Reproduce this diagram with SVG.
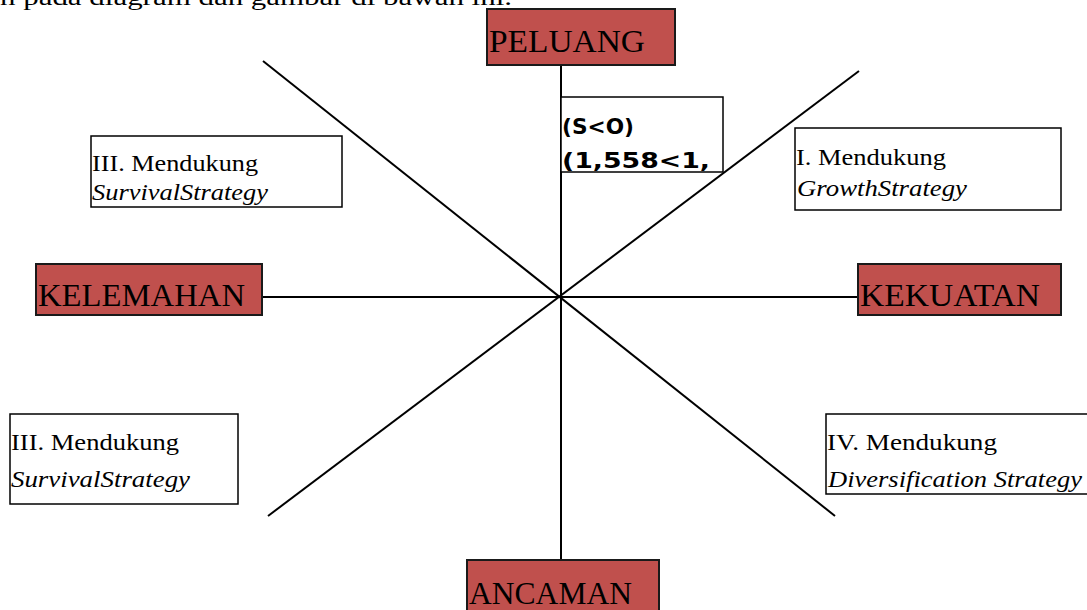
<svg xmlns="http://www.w3.org/2000/svg" width="1087" height="610" viewBox="0 0 1087 610">
<style>
.red{fill:#C0504D;stroke:#1a1a1a;stroke-width:2}
.box{fill:#ffffff;stroke:#000;stroke-width:1.5}
.lbl{font-family:"Liberation Serif",serif;font-size:32px;fill:#000}
.t{font-family:"Liberation Serif",serif;font-size:23px;fill:#000}
.i{font-style:italic}
.b{font-family:"DejaVu Sans",sans-serif;font-weight:bold;font-size:22px;fill:#000}
.ln{stroke:#000;stroke-width:2;fill:none}
</style>
<rect width="1087" height="610" fill="#ffffff"/>
<text x="0" y="5" font-family="Liberation Serif,serif" font-size="24" textLength="512" lengthAdjust="spacingAndGlyphs">n pada diagram dan gambar di bawah ini.</text>
<g id="connectors">
<line class="ln" x1="561" y1="66" x2="561" y2="560"/>
<line class="ln" x1="262" y1="297" x2="858" y2="297"/>
<line class="ln" x1="263" y1="61" x2="835" y2="516"/>
<line class="ln" x1="859" y1="71" x2="268" y2="516"/>
</g>
<g id="peluang">
<rect class="red" x="487" y="9" width="188" height="56"/>
<text class="lbl" x="489" y="52" textLength="156" lengthAdjust="spacingAndGlyphs">PELUANG</text>
</g>
<g id="kelemahan">
<rect class="red" x="36" y="264" width="226" height="51"/>
<text class="lbl" x="38" y="306" textLength="207" lengthAdjust="spacingAndGlyphs">KELEMAHAN</text>
</g>
<g id="kekuatan">
<rect class="red" x="858" y="264" width="203" height="51"/>
<text class="lbl" x="860" y="306" textLength="180" lengthAdjust="spacingAndGlyphs">KEKUATAN</text>
</g>
<g id="ancaman">
<rect class="red" x="467" y="560" width="192" height="60"/>
<text class="lbl" x="469" y="604" textLength="163" lengthAdjust="spacingAndGlyphs">ANCAMAN</text>
</g>
<g id="so">
<rect class="box" x="561" y="97" width="162" height="75"/>
<text class="b" x="562" y="134" textLength="72" lengthAdjust="spacingAndGlyphs">(S&lt;O)</text>
<text class="b" x="562" y="168" textLength="148" lengthAdjust="spacingAndGlyphs">(1,558&lt;1,</text>
</g>
<g id="q3top">
<rect class="box" x="91" y="136" width="251" height="71"/>
<text class="t" x="92" y="171" textLength="166" lengthAdjust="spacingAndGlyphs">III. Mendukung</text>
<text class="t i" x="92" y="200" textLength="176" lengthAdjust="spacingAndGlyphs">SurvivalStrategy</text>
</g>
<g id="q1">
<rect class="box" x="795" y="128" width="266" height="82"/>
<text class="t" x="796" y="165" textLength="150" lengthAdjust="spacingAndGlyphs">I. Mendukung</text>
<text class="t i" x="797" y="196" textLength="170" lengthAdjust="spacingAndGlyphs">GrowthStrategy</text>
</g>
<g id="q3bottom">
<rect class="box" x="10" y="414" width="228" height="90"/>
<text class="t" x="11" y="450" textLength="168" lengthAdjust="spacingAndGlyphs">III. Mendukung</text>
<text class="t i" x="11" y="487" textLength="179" lengthAdjust="spacingAndGlyphs">SurvivalStrategy</text>
</g>
<g id="q4">
<rect class="box" x="826" y="414" width="270" height="80"/>
<text class="t" x="827" y="450" textLength="170" lengthAdjust="spacingAndGlyphs">IV. Mendukung</text>
<text class="t i" x="828" y="487" textLength="254" lengthAdjust="spacingAndGlyphs">Diversification Strategy</text>
</g>
</svg>
